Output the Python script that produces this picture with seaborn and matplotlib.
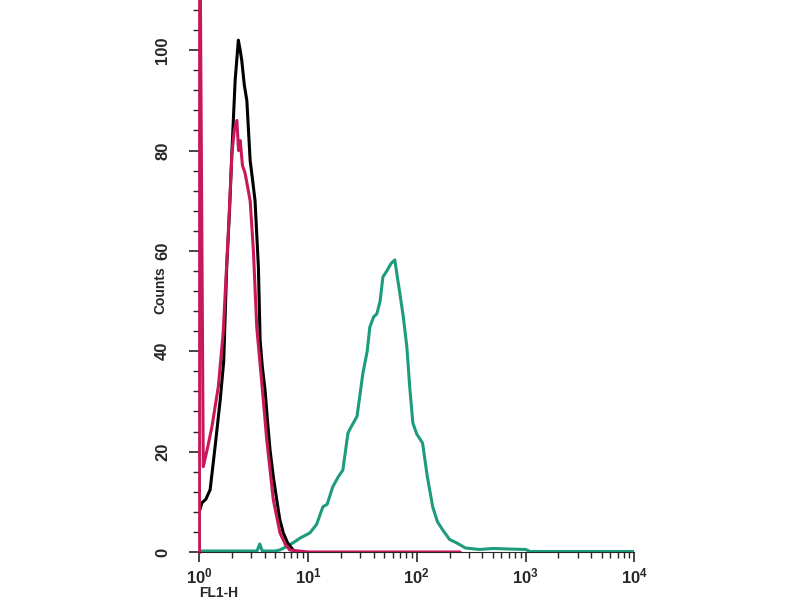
import numpy as np
import pandas as pd
import matplotlib
matplotlib.use('Agg')
import matplotlib.pyplot as plt
import seaborn as sns
from matplotlib.ticker import LogLocator, MultipleLocator, NullFormatter

# histogram traces (FL1-H vs counts)
black_x = [1.0, 1.06, 1.15, 1.26, 1.4, 1.56, 1.68, 1.79, 1.9, 2.0, 2.14, 2.29, 2.38, 2.46, 2.6,
           2.74, 2.94, 3.1, 3.26, 3.5, 3.63, 3.8, 4.03, 4.25, 4.48, 4.8, 5.16, 5.5, 5.93, 6.5, 7.3, 8.0]
black_y = [8, 9.8, 10.5, 12.4, 21, 30.3, 38, 56.8, 68, 80, 94, 102, 100, 98, 93,
           90, 78, 74, 70, 56.8, 42.2, 37, 32.3, 26, 20.3, 15, 10.4, 6.5, 3.8, 1.8, 0.4, 0]

red_x = [1.0, 1.0, 1.09, 1.2, 1.31, 1.5, 1.66, 1.85, 2.0, 2.1, 2.22, 2.3, 2.38, 2.5, 2.64,
         2.94, 3.15, 3.38, 3.76, 4.18, 4.8, 5.53, 6.2, 6.8, 10, 100, 250]
red_y = [0, 150, 17, 21, 25, 33, 43.6, 63.5, 79.5, 84, 86, 80, 82, 77, 75.5,
         70, 60, 44.8, 33.7, 22.3, 10.4, 3.8, 1.5, 0.4, 0, 0, 0]

green_x = [1.0, 2.0, 3.4, 3.6, 3.8, 5.0, 5.5, 6.5, 7.5, 8.5, 10.4, 12, 13.7, 15, 16.9, 19, 20.9,
           23.3, 25, 28.2, 32, 35, 37, 40, 43, 46, 48.8, 53, 58, 62.8, 66, 69.8, 75, 81, 86, 92,
           100, 113, 125, 140, 155, 173, 200, 233, 280, 378, 500, 700, 1000, 1100, 10000]
green_y = [0.2, 0.2, 0.2, 1.6, 0.2, 0.2, 0.4, 1.2, 2.0, 2.8, 3.8, 5.5, 9, 9.5, 13, 15, 16.3,
           23.7, 25, 27, 35.7, 40, 44.8, 46.8, 47.5, 50, 54.8, 56, 57.5, 58.2, 55, 51.6, 47, 40.9, 33, 25.7,
           23.5, 21.7, 15, 9, 6, 4.4, 2.5, 1.8, 0.8, 0.5, 0.7, 0.6, 0.5, 0.1, 0.1]

sns.set_style('ticks')
plt.rcParams['font.family'] = ['Liberation Sans', 'DejaVu Sans']

fig = plt.figure(figsize=(8, 6), dpi=100)
ax = fig.add_axes([0.249, 0.08, 0.544, 0.92])

traces = [
    (green_x, green_y, '#1c9c7c'),
    (black_x, black_y, 'black'),
    (red_x, red_y, '#c8175a'),
]
for xs, ys, col in traces:
    df = pd.DataFrame({'FL1-H': xs, 'Counts': ys})
    sns.lineplot(data=df, x='FL1-H', y='Counts', sort=False, estimator=None,
                 color=col, lw=2.2, ax=ax)

ax.set_xscale('log')
ax.set_xlim(1, 1e4)
ax.set_ylim(0, 110)

sns.despine(ax=ax)
ax.spines['left'].set_color('#c8175a')
ax.spines['left'].set_linewidth(2.0)

ax.xaxis.set_major_locator(LogLocator(base=10, numticks=10))
ax.xaxis.set_minor_locator(LogLocator(base=10, subs=np.arange(2, 10), numticks=20))
ax.xaxis.set_minor_formatter(NullFormatter())
ax.yaxis.set_major_locator(MultipleLocator(20))
ax.yaxis.set_minor_locator(MultipleLocator(4))

ax.tick_params(axis='both', which='major', length=7, width=1.2, labelsize=12)
ax.tick_params(axis='both', which='minor', length=4, width=1.0)
ax.tick_params(axis='y', labelrotation=90, pad=14)
for lab in ax.get_yticklabels():
    lab.set_va('center')
    lab.set_fontweight('bold')
for lab in ax.get_xticklabels():
    lab.set_fontweight('bold')

ax.set_xlabel('FL1-H', loc='left', fontsize=10, fontweight='bold', labelpad=0)
ax.set_ylabel('Counts', fontsize=10, fontweight='bold')
ax.yaxis.set_label_coords(-0.09, 0.475)
ax.yaxis.label.set_va('center')

plt.savefig('out.png', dpi=100)
